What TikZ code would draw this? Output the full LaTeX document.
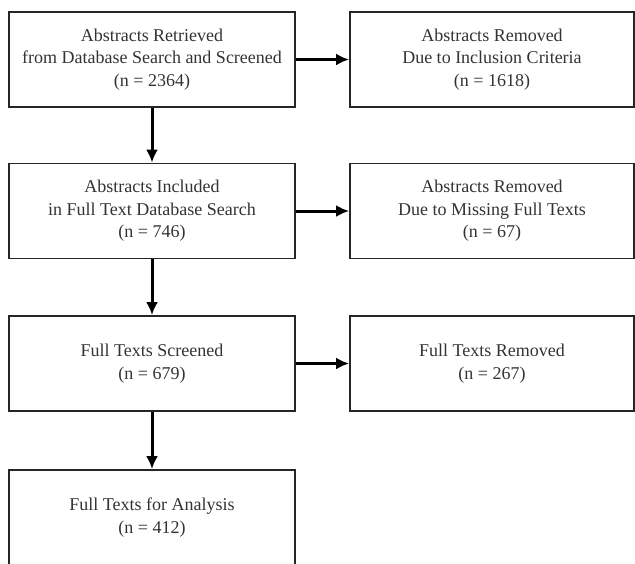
\documentclass[tikz,border=0pt]{standalone}
\usepackage{fontspec}
\setmainfont{Liberation Serif}
\usetikzlibrary{arrows.meta}
\begin{document}
\begin{tikzpicture}[x=1pt, y=-1pt, >={Latex[length=13pt, width=12pt]},
	every node/.style={draw=black!85, line width=1.8pt, rectangle, minimum width=286pt, minimum height=95pt, align=center, text=black!80, font=\fontsize{18}{22.5}\selectfont}]
	\useasboundingbox (0,0) rectangle (635,563);
	\clip (0,0) rectangle (635,563);
	
	\node (retrieved) at (152, 59.5) {Abstracts Retrieved\\from Database Search and Screened\\(n = 2364)};
	\node (included) at (152, 211) {Abstracts Included\\in Full Text Database Search\\(n = 746)};
	\node (screened) at (152, 363.5) {Full Texts Screened\\(n = 679)};
	\node (analysis) at (152, 517.5) {Full Texts for Analysis\\(n = 412)};
	
	\node[minimum width=284pt] (crit) at (492, 59.5) {Abstracts Removed\\Due to Inclusion Criteria\\(n = 1618)};
	\node[minimum width=284pt] (missing) at (492, 211) {Abstracts Removed\\Due to Missing Full Texts\\(n = 67)};
	\node[minimum width=284pt] (removed) at (492, 363.5) {Full Texts Removed\\(n = 267)};
	
	\draw[->, line width=3pt] (retrieved) -- (crit);
	\draw[->, line width=3pt] (included) -- (missing);
	\draw[->, line width=3pt] (screened) -- (removed);
	\draw[->, line width=3pt] (retrieved) -- (included);
	\draw[->, line width=3pt] (included) -- (screened);
	\draw[->, line width=3pt] (screened) -- (analysis);
\end{tikzpicture}
\end{document}
